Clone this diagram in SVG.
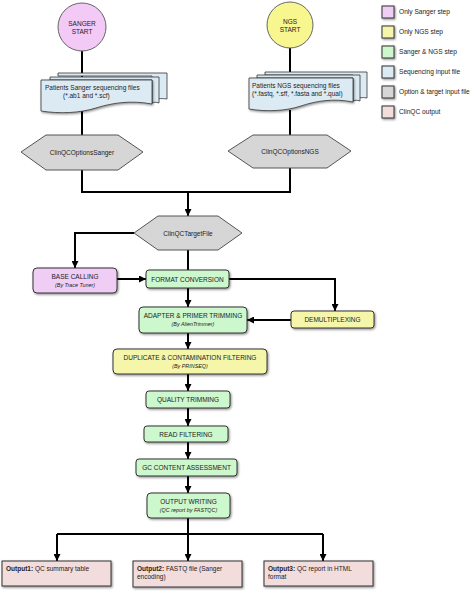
<svg xmlns="http://www.w3.org/2000/svg" width="472" height="591" viewBox="0 0 472 591">
<style>
text{font-family:"Liberation Sans",Arial,sans-serif;fill:#222;font-size:6.5px}
.t{text-anchor:middle}
.s{font-size:5.4px;font-style:italic;text-anchor:middle}
.lg{font-size:6.6px}
.box{stroke:#333;stroke-width:1}
.con{fill:none;stroke:#000;stroke-width:2}
.arr{marker-end:url(#ah)}
.hex{fill:#d6d6d6;stroke:#555;stroke-width:1}
.doc{fill:#dcebf3;stroke:#333;stroke-width:0.8}
.pk{fill:#f0cdf4}.yl{fill:#f6f6aa}.gr{fill:#cdf7cd}.bl{fill:#dcebf3}.gy{fill:#d6d6d6}.sa{fill:#f2dcdc}
</style>
<defs>
<marker id="ah" viewBox="0 0 8 8" refX="8" refY="4" markerWidth="7" markerHeight="7" markerUnits="userSpaceOnUse" orient="auto"><path d="M0,0 L8,4 L0,8 z" fill="#000"/></marker>
<filter id="sh" x="-10%" y="-10%" width="130%" height="140%"><feDropShadow dx="1" dy="1.2" stdDeviation="0.8" flood-color="#000" flood-opacity="0.45"/></filter>
</defs>

<g id="connectors">
<path class="con" d="M82,50 V80"/>
<path class="con" d="M82,110 V135"/>
<path class="con" d="M82,170 V192 H290 V168"/>
<path class="con" d="M290,48 V80"/>
<path class="con" d="M290,110 V135"/>
<path class="con arr" d="M188,192 V216"/>
<path class="con arr" d="M134,233 H75 V268"/>
<path class="con" d="M188,250 V270"/>
<path class="con arr" d="M117,279 H146"/>
<path class="con arr" d="M188,288 V307"/>
<path class="con arr" d="M229,279 H335 V311"/>
<path class="con arr" d="M291,320 H247"/>
<path class="con arr" d="M188,333 V349"/>
<path class="con arr" d="M188,374 V391"/>
<path class="con arr" d="M188,408 V426"/>
<path class="con arr" d="M188,442 V459"/>
<path class="con arr" d="M188,476 V493"/>
<path class="con arr" d="M188,518 V561"/>
<path class="con" d="M57,534 H323"/>
<path class="con arr" d="M57,534 V561"/>
<path class="con arr" d="M323,534 V561"/>
</g>

<g id="sanger-start">
<circle cx="82" cy="27" r="24" fill="#f3c9f5" stroke="#666" stroke-width="1"/>
<text class="t" x="82" y="26">SANGER</text>
<text class="t" x="82" y="34">START</text>
</g>

<g id="ngs-start">
<circle cx="290" cy="25" r="23" fill="#f8f68e" stroke="#666" stroke-width="1"/>
<text class="t" x="290" y="24">NGS</text>
<text class="t" x="290" y="32">START</text>
</g>

<g id="sanger-files">
<path class="doc" d="M58,73 H167 V99 C160,98 158,99 152,100 V76 H58 Z"/>
<path class="doc" d="M50,77 H159 V103 C156,102 154,102 152,103 V80 H50 Z"/>
<path class="doc" d="M41,80 H152 V104 C130,100 112,103 96,108 C80,113 60,114 41,111 Z" filter="url(#sh)"/>
<text x="45" y="90">Patients Sanger sequencing files</text>
<text x="63" y="97.5">(*.ab1 and *.scf)</text>
</g>

<g id="ngs-files">
<path class="doc" d="M265,72 H367 V98 C362,97 358,98 353,99 V75 H265 Z"/>
<path class="doc" d="M257,75 H360 V101 C357,100 355,100 353,101 V78 H257 Z"/>
<path class="doc" d="M249,78 H353 V102 C333,98 316,101 301,106 C286,111 267,112 249,109 Z" filter="url(#sh)"/>
<text x="252" y="88">Patients NGS sequencing files</text>
<text x="252" y="95.5">(*.fastq, *.sff, *.fasta and *.qual)</text>
</g>

<g id="options-sanger">
<path class="hex" d="M21,152 L46,135 H118 L143,152 L118,170 H46 Z"/>
<text class="t" x="82" y="154.5">ClinQCOptionsSanger</text>
</g>

<g id="options-ngs">
<path class="hex" d="M228,151 L253,135 H327 L351,151 L327,168 H253 Z"/>
<text class="t" x="290" y="153.5">ClinQCOptionsNGS</text>
</g>

<g id="target-file">
<path class="hex" d="M134,233 L158,216 H218 L242,233 L218,250 H158 Z"/>
<text class="t" x="188" y="235.5">ClinQCTargetFile</text>
</g>

<g id="base-calling">
<rect class="box pk" x="33" y="268" width="84" height="25" rx="4" filter="url(#sh)"/>
<text class="t" x="75" y="279">BASE CALLING</text>
<text class="s" x="75" y="286.5">(By Trace Tuner)</text>
</g>

<g id="format-conversion">
<rect class="box gr" x="146" y="270" width="83" height="18" rx="3" filter="url(#sh)"/>
<text class="t" x="187.5" y="281.5">FORMAT CONVERSION</text>
</g>

<g id="adapter-trimming">
<rect class="box gr" x="139" y="307" width="108" height="26" rx="4" filter="url(#sh)"/>
<text class="t" x="193" y="318">ADAPTER &amp; PRIMER TRIMMING</text>
<text class="s" x="193" y="325.5">(By AlienTrimmer)</text>
</g>

<g id="demultiplexing">
<rect class="box yl" x="291" y="311" width="83" height="17" rx="3" filter="url(#sh)"/>
<text class="t" x="332.5" y="322">DEMULTIPLEXING</text>
</g>

<g id="duplicate-filtering">
<rect class="box yl" x="113" y="349" width="154" height="25" rx="4" filter="url(#sh)"/>
<text class="t" x="190" y="360">DUPLICATE &amp; CONTAMINATION FILTERING</text>
<text class="s" x="190" y="367.5">(By PRINSEQ)</text>
</g>

<g id="quality-trimming">
<rect class="box gr" x="146" y="391" width="84" height="17" rx="3" filter="url(#sh)"/>
<text class="t" x="188" y="402">QUALITY TRIMMING</text>
</g>

<g id="read-filtering">
<rect class="box gr" x="144" y="426" width="84" height="16" rx="3" filter="url(#sh)"/>
<text class="t" x="186" y="436.5">READ FILTERING</text>
</g>

<g id="gc-content">
<rect class="box gr" x="136" y="459" width="101" height="17" rx="3" filter="url(#sh)"/>
<text class="t" x="186.5" y="470">GC CONTENT ASSESSMENT</text>
</g>

<g id="output-writing">
<rect class="box gr" x="147" y="493" width="83" height="25" rx="4" filter="url(#sh)"/>
<text class="t" x="188.5" y="504">OUTPUT WRITING</text>
<text class="s" x="188.5" y="511.5">(QC report by FASTQC)</text>
</g>

<g id="output1">
<rect class="box sa" x="2" y="561" width="109" height="25" filter="url(#sh)"/>
<text x="6" y="571"><tspan font-weight="bold">Output1:</tspan> QC summary table</text>
</g>

<g id="output2">
<rect class="box sa" x="133" y="561" width="109" height="26" filter="url(#sh)"/>
<text x="137" y="571"><tspan font-weight="bold">Output2:</tspan> FASTQ file (Sanger</text>
<text x="137" y="579">encoding)</text>
</g>

<g id="output3">
<rect class="box sa" x="264" y="561" width="109" height="25" filter="url(#sh)"/>
<text x="268" y="571"><tspan font-weight="bold">Output3:</tspan> QC report in HTML</text>
<text x="268" y="579">format</text>
</g>

<g id="legend">
<rect class="box pk" x="382" y="6" width="12" height="12" filter="url(#sh)"/>
<text class="lg" x="399" y="14">Only Sanger step</text>
<rect class="box yl" x="382" y="26" width="12" height="12" filter="url(#sh)"/>
<text class="lg" x="399" y="34">Only NGS step</text>
<rect class="box gr" x="382" y="46" width="12" height="12" filter="url(#sh)"/>
<text class="lg" x="399" y="54">Sanger &amp; NGS step</text>
<rect class="box bl" x="382" y="66" width="12" height="12" filter="url(#sh)"/>
<text class="lg" x="399" y="74">Sequencing input file</text>
<rect class="box gy" x="382" y="86" width="12" height="12" filter="url(#sh)"/>
<text class="lg" x="399" y="94">Option &amp; target input file</text>
<rect class="box sa" x="382" y="106" width="12" height="12" filter="url(#sh)"/>
<text class="lg" x="399" y="114">ClinQC output</text>
</g>
</svg>
